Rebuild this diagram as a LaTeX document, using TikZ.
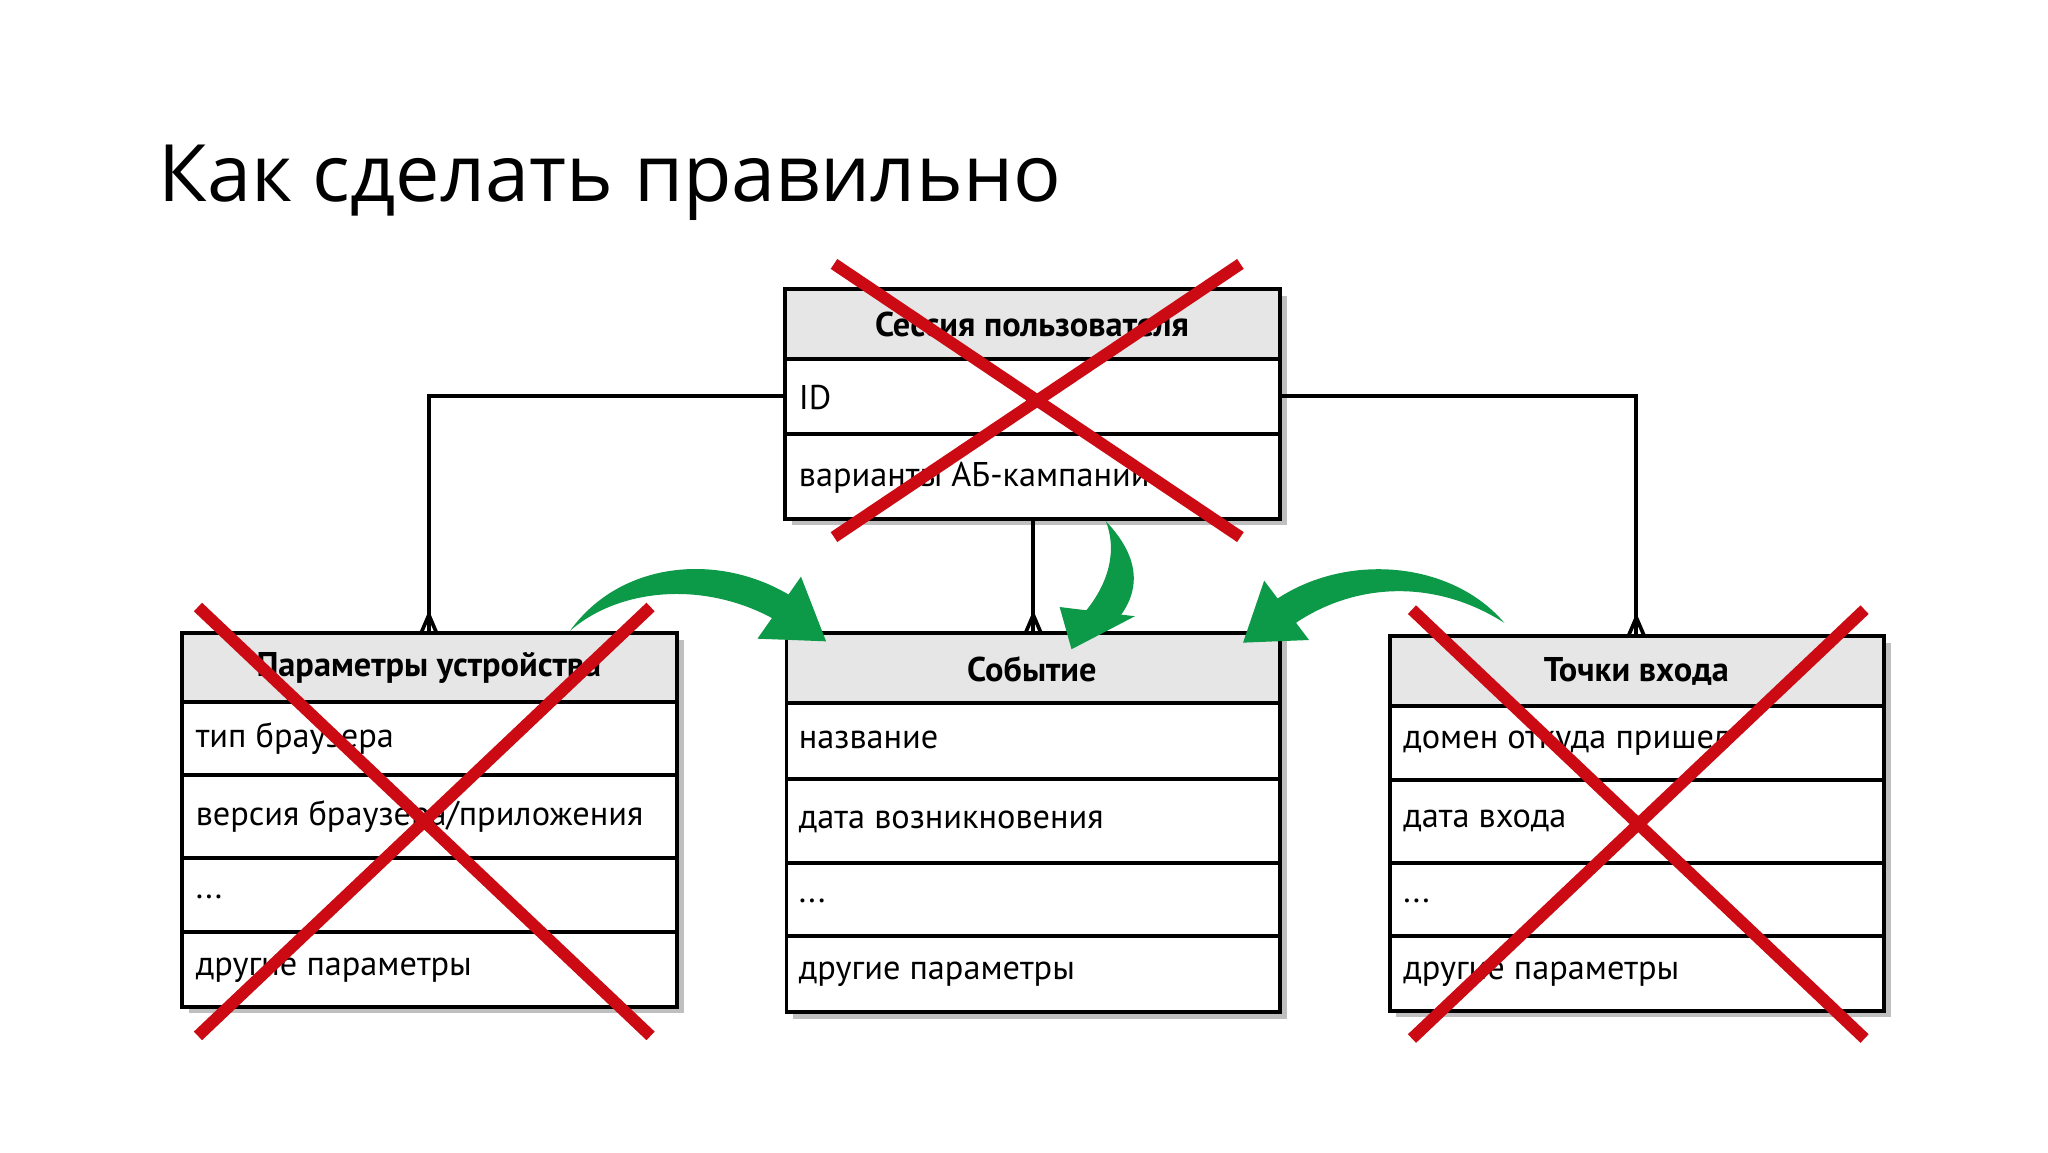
\documentclass[tikz,border=0pt]{standalone}
\usetikzlibrary{calc}
\usepackage{fontspec}
\setmainfont{PT Sans}
\newfontfamily\titlefont{Open Sans}
\definecolor{crossred}{HTML}{CC0A14}
\definecolor{arrgreen}{HTML}{0C9A48}
\definecolor{hdr}{HTML}{E6E6E6}
\begin{document}
\begin{tikzpicture}[x=0.5pt,y=-0.5pt,
  frame/.style={line width=1.5pt,draw=black},
  shadow/.style={fill=black!25},
  rowtxt/.style={anchor=west,font=\fontsize{13}{15}\selectfont,inner sep=0pt},
  hdrtxt/.style={anchor=center,font=\fontsize{13}{15}\selectfont\bfseries,inner sep=0pt},
  link/.style={line width=1.4pt},
  cross/.style={draw=crossred,line width=4.5pt},
  garrow/.style={fill=arrgreen,draw=none}]
\useasboundingbox (0,0) rectangle (1552,873);
\fill[white] (0,0) rectangle (1552,873);
\node[anchor=base west,inner sep=0pt,font=\titlefont\fontsize{30}{36}\selectfont] (title) at (120,153) {Как сделать правильно};
% session
\fill[shadow] (600,224) rectangle (975,398);
\fill[hdr] (595,219) rectangle (970,272);
\fill[white] (595,272) rectangle (970,393);
\draw[frame] (595,219) rectangle (970,393);
\draw[frame] (595,272) -- (970,272) (595,329) -- (970,329);
\coordinate (sesL) at (595,300); \coordinate (sesR) at (970,300); \coordinate (sesB) at (783,393);
\node[hdrtxt] (sh) at (782,246) {Сессия пользователя};
\node[rowtxt] (s1) at (605,301) {ID};
\node[rowtxt] (s2) at (605,362) {варианты АБ-кампании};
% left box
\fill[shadow] (143,485) rectangle (518,768);
\fill[hdr] (138,480) rectangle (513,532);
\fill[white] (138,532) rectangle (513,763);
\draw[frame] (138,480) rectangle (513,763);
\draw[frame] (138,532)--(513,532) (138,587)--(513,587) (138,650)--(513,650) (138,706)--(513,706);
\coordinate (devT) at (325,480);
\node[hdrtxt] (dh) at (325,506) {Параметры устройства};
\node[rowtxt] (d1) at (148,560) {тип браузера};
\node[rowtxt] (d2) at (148,619) {версия браузера/приложения};
\node[rowtxt] (d3) at (148,680) {...};
\node[rowtxt] (d4) at (148,735) {другие параметры};
% center box
\fill[shadow] (601,485) rectangle (975,772);
\fill[hdr] (596,480) rectangle (970,533);
\fill[white] (596,533) rectangle (970,767);
\draw[frame] (596,480) rectangle (970,767);
\draw[frame] (596,533)--(970,533) (596,590)--(970,590) (596,654)--(970,654) (596,709)--(970,709);
\coordinate (evT) at (783,480);
\node[hdrtxt] (eh) at (782,507) {Событие};
\node[rowtxt] (e1) at (605,561) {название};
\node[rowtxt] (e2) at (605,623) {дата возникновения};
\node[rowtxt] (e3) at (605,683) {...};
\node[rowtxt] (e4) at (605,738) {другие параметры};
% right box
\fill[shadow] (1058,487) rectangle (1433,771);
\fill[hdr] (1053,482) rectangle (1428,535);
\fill[white] (1053,535) rectangle (1428,766);
\draw[frame] (1053,482) rectangle (1428,766);
\draw[frame] (1053,535)--(1428,535) (1053,591)--(1428,591) (1053,654)--(1428,654) (1053,709)--(1428,709);
\coordinate (entT) at (1240,482);
\node[hdrtxt] (rh) at (1240,509) {Точки входа};
\node[rowtxt] (r1) at (1063,563) {домен откуда пришел};
\node[rowtxt] (r2) at (1063,622) {дата входа};
\node[rowtxt] (r3) at (1063,683) {...};
\node[rowtxt] (r4) at (1063,738) {другие параметры};
% connectors
\draw[link] (sesL) -| (devT);
\draw[link] (sesR) -| (entT);
\draw[link] (sesB) -- (evT);
\foreach \c in {devT,evT,entT}{
  \draw[link] ($(\c)+(0,-14)$) -- ($(\c)+(-6,0)$) ($(\c)+(0,-14)$) -- ($(\c)+(6,0)$);}
% green arrows
\fill[garrow] (432,478) .. controls (470,425) and (545,418) .. (600,452) -- (588,470) .. controls (535,440) and (470,445) .. (432,478) -- cycle;
\fill[garrow] (574,484) -- (607,437) -- (626,486) -- cycle;
\fill[garrow] (838,395) .. controls (862,420) and (866,445) .. (848,468) -- (822,464) .. controls (842,440) and (846,415) .. (838,395) -- cycle;
\fill[garrow] (803,460) -- (860,467) -- (812,492) -- cycle;
\fill[garrow] (1140,472) .. controls (1100,425) and (1020,418) .. (966,455) -- (982,472) .. controls (1030,440) and (1090,440) .. (1140,472) -- cycle;
\fill[garrow] (942,487) -- (958,440) -- (992,485) -- cycle;
% red crosses
\draw[cross] (632,200) -- (940,407) (632,407) -- (940,200);
\draw[cross] (150,460) -- (493,785) (150,785) -- (493,460);
\draw[cross] (1070,462) -- (1413,787) (1070,787) -- (1413,462);
\end{tikzpicture}
\end{document}
